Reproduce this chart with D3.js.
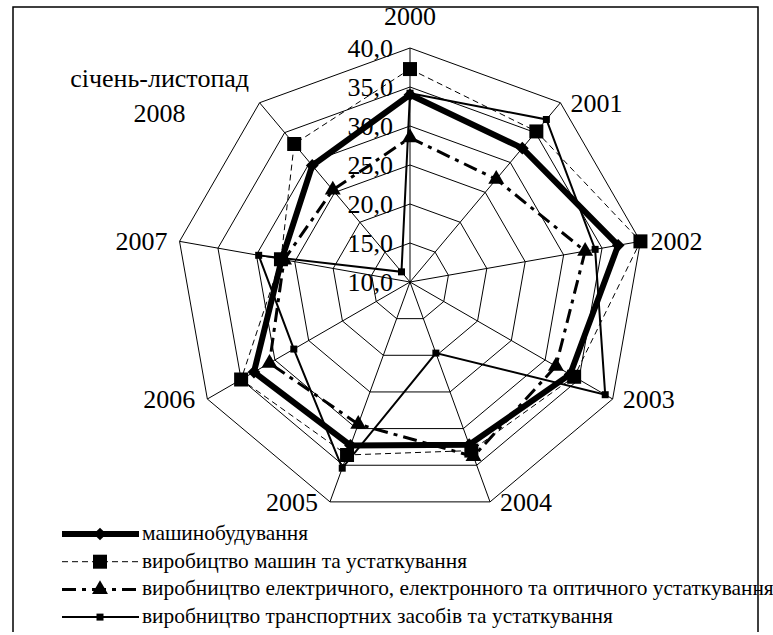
<!DOCTYPE html>
<html>
<head>
<meta charset="utf-8">
<script src="https://cdn.jsdelivr.net/npm/d3@7"></script>
</head>
<body style="margin:0">
<div id="canvas"></div>
<script>
// categories (axes of the radar), clockwise from the top
const categories = ["2000", "2001", "2002", "2003", "2004", "2005", "2006", "2007", "січень-листопад 2008"]
const ticks = [10, 15, 20, 25, 30, 35, 40]

const seriesNames = [
    "машинобудування",
    "виробицтво машин та устаткування",
    "виробництво електричного, електронного та оптичного устаткування",
    "виробництво транспортних засобів та устаткування"
]
const mashynobuduvannia = [34.0, 32.4, 37.1, 33.7, 32.2, 32.3, 33.1, 26.7, 29.5]
const mashynyUstatkuvannia = [37.3, 35.2, 40.0, 34.3, 33.0, 33.6, 35.0, 26.8, 33.1]
const elektrychne = [28.5, 27.2, 32.8, 31.6, 33.8, 29.4, 30.8, 26.4, 25.4]
const transport = [34.2, 37.2, 34.1, 38.9, 19.7, 35.4, 27.2, 29.7, 11.7]

const width = 773
const height = 635
const cx = 410
const cy = 282
const R = 234

const fmt = d3.formatLocale({ decimal: ",", thousands: " ", grouping: [3], currency: ["", ""] }).format(".1f")

const svg = d3.select("#canvas").append("svg")
    .attr("width", width)
    .attr("height", height)

const g = svg.append("g").attr("transform", `translate(${cx}, ${cy})`)

const r = d3.scaleLinear().domain([10, 40]).range([0, R])
const angle = d3.scalePoint()
    .domain(categories)
    .range([0, 2 * Math.PI * (categories.length - 1) / categories.length])

const px = (a, rad) => rad * Math.sin(a)
const py = (a, rad) => -rad * Math.cos(a)

// grid rings
const ring = d3.lineRadial()
    .angle(d => angle(d))
    .curve(d3.curveLinearClosed)

g.selectAll(".ring").data(ticks.slice(1)).enter()
    .append("path")
    .attr("class", "ring")
    .attr("d", t => ring.radius(r(t))(categories))
    .attr("fill", "none")
    .attr("stroke", "#000")
    .attr("stroke-width", 1)

g.selectAll(".spoke").data(categories).enter()
    .append("line")
    .attr("class", "spoke")
    .attr("x1", 0).attr("y1", 0)
    .attr("x2", c => px(angle(c), R))
    .attr("y2", c => py(angle(c), R))
    .attr("stroke", "#000")
    .attr("stroke-width", 1)

// radial tick labels
g.selectAll(".tick").data(ticks).enter()
    .append("text")
    .attr("class", "tick")
    .attr("x", -17)
    .attr("y", t => -r(t) + 9)
    .attr("text-anchor", "end")
    .style("font-family", "Liberation Serif")
    .style("font-size", "26px")
    .text(t => fmt(t))

// category labels
categories.forEach(c => {
    const a = angle(c)
    const vx = px(a, R)
    const vy = py(a, R)
    const s = Math.sin(a)
    const parts = c.split(" ")
    if (Math.abs(s) < 0.01) {
        g.append("text")
            .attr("x", vx).attr("y", vy - 23)
            .attr("text-anchor", "middle")
            .style("font-family", "Liberation Serif")
            .style("font-size", "26px")
            .text(c)
    } else if (parts.length === 1) {
        g.append("text")
            .attr("x", vx + (s > 0 ? 10 : -12)).attr("y", vy + 9)
            .attr("text-anchor", s > 0 ? "start" : "end")
            .style("font-family", "Liberation Serif")
            .style("font-size", "26px")
            .text(c)
    } else {
        // two-line label, both lines centred on the same x
        const mx = vx - 100
        g.append("text")
            .attr("x", mx).attr("y", vy - 16)
            .attr("text-anchor", "middle")
            .style("font-family", "Liberation Serif")
            .style("font-size", "26px")
            .text(parts[0])
        g.append("text")
            .attr("x", mx).attr("y", vy + 19)
            .attr("text-anchor", "middle")
            .style("font-family", "Liberation Serif")
            .style("font-size", "26px")
            .text(parts.slice(1).join(" "))
    }
})

// series
const series = [
    { name: seriesNames[0], values: mashynobuduvannia, width: 6, dash: null, symbol: "diamond", size: 81 },
    { name: seriesNames[1], values: mashynyUstatkuvannia, width: 1, dash: "6,4", symbol: "square", size: 196 },
    { name: seriesNames[2], values: elektrychne, width: 3, dash: "14,6,4,6", symbol: "triangle", size: 110 },
    { name: seriesNames[3], values: transport, width: 2, dash: null, symbol: "square", size: 49 }
]

const symbolPath = s => {
    if (s.symbol === "triangle") return d3.symbol(d3.symbolTriangle, s.size)()
    return d3.symbol(d3.symbolSquare, s.size)()
}

const radarLine = d3.lineRadial()
    .angle((d, i) => angle(categories[i]))
    .radius(d => r(d))
    .curve(d3.curveLinearClosed)

series.forEach(s => {
    g.append("path")
        .attr("d", radarLine(s.values))
        .attr("fill", "none")
        .attr("stroke", "#000")
        .attr("stroke-width", s.width)
        .attr("stroke-linejoin", "miter")
        .attr("stroke-dasharray", s.dash)

    g.selectAll(null).data(s.values).enter()
        .append("path")
        .attr("d", symbolPath(s))
        .attr("transform", (d, i) => {
            const a = angle(categories[i])
            return `translate(${px(a, r(d))}, ${py(a, r(d))})` + (s.symbol === "diamond" ? " rotate(45)" : "")
        })
        .attr("fill", "#000")
})

// legend
const legend = svg.append("g")
series.forEach((s, i) => {
    const y = 540 + i * 27.7
    legend.append("line")
        .attr("x1", 62).attr("x2", 139)
        .attr("y1", y - 6).attr("y2", y - 6)
        .attr("stroke", "#000")
        .attr("stroke-width", s.width)
        .attr("stroke-dasharray", s.dash)
    legend.append("path")
        .attr("d", symbolPath(s))
        .attr("transform", `translate(100, ${y - 6})` + (s.symbol === "diamond" ? " rotate(45)" : ""))
        .attr("fill", "#000")
    legend.append("text")
        .attr("x", 142)
        .attr("y", y)
        .style("font-family", "Liberation Serif")
        .style("font-size", "21.4px")
        .text(s.name)
})

// chart frame
svg.append("path")
    .attr("d", "M13,632V7H758V632")
    .attr("fill", "none")
    .attr("stroke", "#000")
    .attr("stroke-width", 1.5)
</script>
</body>
</html>
